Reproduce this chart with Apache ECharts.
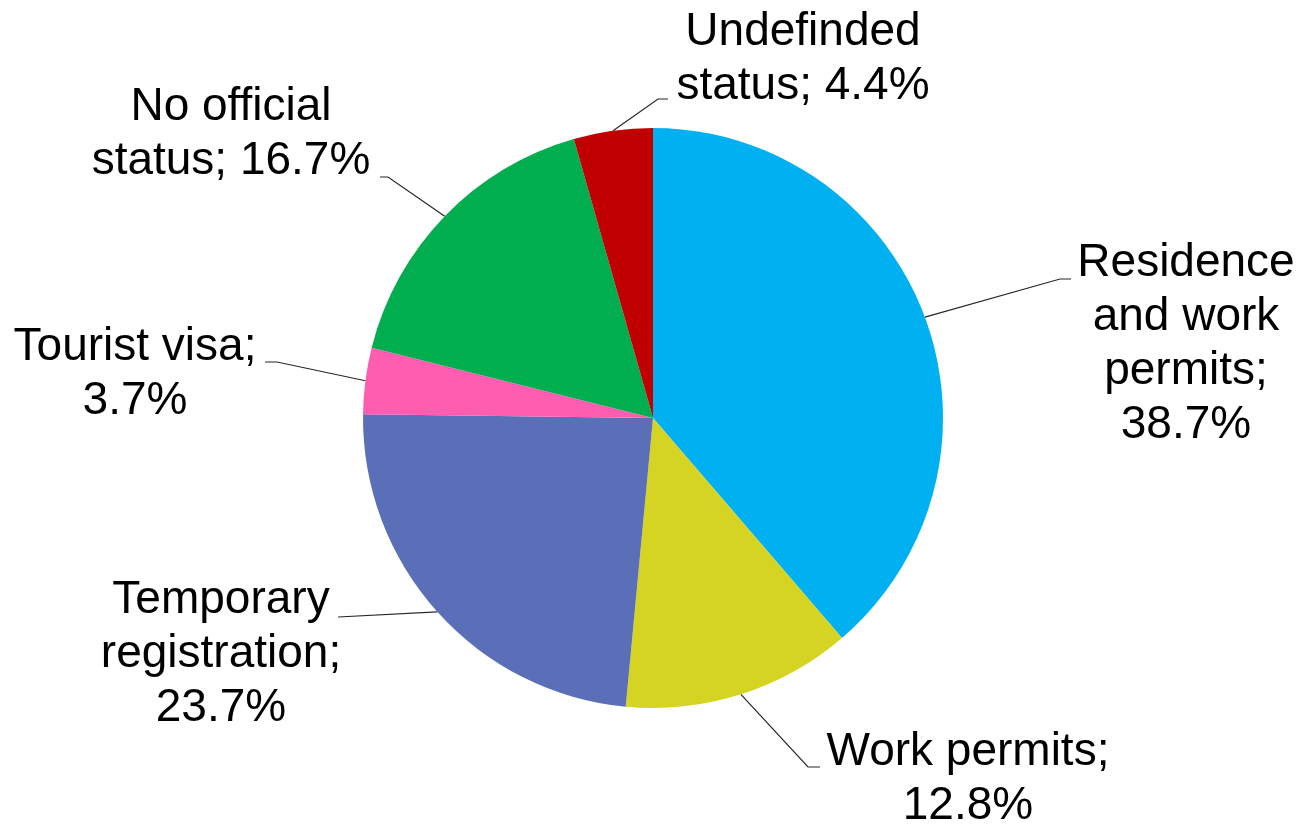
<!DOCTYPE html>
<html><head><meta charset="utf-8">
<script src="https://cdn.jsdelivr.net/npm/echarts@6/dist/echarts.min.js"></script>
<style>html,body{margin:0;padding:0;background:#fff}#c{width:1303px;height:827px}</style>
</head><body><div id="c"></div>
<script>
// ---- data (clockwise from 12 o'clock) ----
const categories = ['Residence\nand work\npermits', 'Work permits', 'Temporary\nregistration', 'Tourist visa', 'No official\nstatus', 'Undefinded\nstatus'];
const shares = [38.7, 12.8, 23.7, 3.7, 16.7, 4.4];
const valueSeparators = ['\n', '\n', '\n', '\n', ' ', ' '];

// ---- style ----
const colors = ['#00B0F0', '#D5D423', '#5A6FB7', '#FF5DB0', '#00AE50', '#C00000'];
const pieCenter = [653, 418];
const pieRadius = 290;
const lineH = 54;
// label block: center x, first-line center y; leader elbow and end
const labelAnchors = [
  { x: 1186, y: 263, elbow: [1060, 279], end: [1071, 279] },
  { x: 968,  y: 752, elbow: [808, 767],  end: [820, 767] },
  { x: 221,  y: 600, elbow: [338, 617],  end: [338, 617] },
  { x: 135,  y: 347, elbow: [277, 362],  end: [265, 362] },
  { x: 231,  y: 107, elbow: [388, 177],  end: [380, 177] },
  { x: 803,  y: 32,  elbow: [658, 99],   end: [668, 99] }
];

const total = shares.reduce((a, b) => a + b, 0);
function edgePoint(i) {
  let cum = 0;
  for (let k = 0; k < i; k++) cum += shares[k];
  const ang = (cum + shares[i] / 2) / total * 2 * Math.PI;
  return [pieCenter[0] + pieRadius * Math.sin(ang), pieCenter[1] - pieRadius * Math.cos(ang)];
}

const chart = echarts.init(document.getElementById('c'), null, { renderer: 'canvas' });
chart.setOption({
  animation: false,
  backgroundColor: '#ffffff',
  series: [{
    type: 'pie',
    center: pieCenter,
    radius: pieRadius,
    startAngle: 90,
    clockwise: true,
    avoidLabelOverlap: false,
    data: categories.map((c, i) => ({ name: c, value: shares[i], itemStyle: { color: colors[i] } })),
    itemStyle: { borderWidth: 0 },
    emphasis: { disabled: true },
    label: {
      show: true,
      position: 'outside',
      color: '#000000',
      fontFamily: 'Liberation Sans, Arial, sans-serif',
      fontSize: 46,
      lineHeight: lineH,
      formatter: p => p.name + ';' + valueSeparators[p.dataIndex] + p.value.toFixed(1) + '%'
    },
    labelLine: {
      show: true,
      lineStyle: { color: '#262626', width: 1.2 }
    },
    labelLayout: function (params) {
      const a = labelAnchors[params.dataIndex];
      return {
        x: a.x,
        y: a.y - lineH / 2,
        align: 'center',
        verticalAlign: 'top',
        labelLinePoints: [edgePoint(params.dataIndex), a.elbow, a.end]
      };
    }
  }]
});
</script>
</body></html>
